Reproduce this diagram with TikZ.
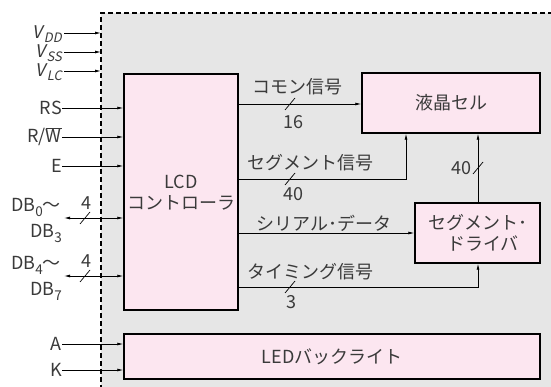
\documentclass[tikz,border=0pt]{standalone}
\usepackage{fontspec}
\setmainfont{Noto Sans CJK JP}
\newfontfamily\slfont[FakeSlant=0.2]{Noto Sans CJK JP}
\usetikzlibrary{arrows.meta}
\definecolor{bggray}{HTML}{E6E6E6}
\definecolor{boxpink}{HTML}{FCE6F0}
\definecolor{txt}{HTML}{3A3A3A}
\newcommand{\mysub}[1]{\raisebox{-0.3em}[0pt][0pt]{\fontsize{13.5}{13.5}\selectfont #1}}
\newcommand{\vsub}[1]{\kern1pt\raisebox{-0.25em}[0pt][0pt]{\fontsize{13}{13}\selectfont #1}}
\begin{document}
\begin{tikzpicture}[x=1pt,y=-1pt,
  every node/.style={text=txt,font=\fontsize{18}{21}\selectfont,inner sep=0pt},
  blk/.style={draw=black,line width=1.4pt,fill=boxpink},
  arr/.style={line width=0.8pt,-{Latex[length=6pt,width=3pt]}},
  darr/.style={line width=0.8pt,{Latex[length=6pt,width=3pt]}-{Latex[length=6pt,width=3pt]}},
  lab/.style={anchor=east},
  vlab/.style={anchor=east,font=\fontsize{17.5}{17.5}\selectfont\slfont},
  slash/.style={line width=0.7pt}]
\useasboundingbox (0,0) rectangle (551,387);
% chip region
\fill[bggray] (101,13) rectangle (551,387);
\draw[line width=1.2pt,dash pattern=on 5pt off 3pt] (101,390) -- (101,13) -- (555,13);
% blocks
\node[blk,minimum width=114pt,minimum height=236pt] (ctrl) at (181,192) {};
\node[align=center] (ctrltxt) at (181,193) {LCD\\コントローラ};
\node[blk,minimum width=178pt,minimum height=60pt] (cell) at (451,103) {液晶セル};
\node[blk,minimum width=125pt,minimum height=60pt,align=center] (drv) at (477.5,233) {セグメント･\\\hspace*{0.6em}ドライバ};
\node[blk,minimum width=416pt,minimum height=45pt] (led) at (332,356.5) {LEDバックライト};
% power inputs
\coordinate (border) at (101,0);
\node[vlab] (vdd) at (62,32) {V\vsub{DD}};
\node[vlab] (vss) at (62,51) {V\vsub{SS}};
\node[vlab] (vlc) at (62,70) {V\vsub{LC}};
\draw[arr] (64,33) coordinate (pvdd) -- (pvdd -| border);
\draw[arr] (64,52) coordinate (pvss) -- (pvss -| border);
\draw[arr] (64,71) coordinate (pvlc) -- (pvlc -| border);
% control inputs
\foreach \nm/\y/\t in {rs/108/RS,rw/137/{R/$\overline{\hbox{W}}$},en/166/E,a/344/A,k/370/K}{
  \node[lab] (\nm) at (62,\y) {\t};
}
\draw[arr] (rs.east) -- (rs.east -| ctrl.west);
\draw[arr] (rw.east) -- (rw.east -| ctrl.west);
\draw[arr] (en.east) -- (en.east -| ctrl.west);
\draw[arr] (a.east) -- (a.east -| led.west);
\draw[arr] (k.east) -- (k.east -| led.west);
% data bus
\node[anchor=east] (db0) at (61,205) {DB\mysub{0}～};
\node[anchor=east] (db3) at (62,231) {DB\mysub{3}};
\node[anchor=east] (db4) at (61,263) {DB\mysub{4}～};
\node[anchor=east] (db7) at (62,289) {DB\mysub{7}};
\coordinate (dbl) at (64,218);
\coordinate (dbh) at (64,276);
\draw[darr] (dbl) -- (dbl -| ctrl.west);
\draw[darr] (dbh) -- (dbh -| ctrl.west);
\draw[slash] (80,224) -- (90,212);
\draw[slash] (80,282) -- (90,270);
\node (n4a) at (86,203) {4};
\node (n4b) at (86,261) {4};
% common signal
\coordinate (com) at (238,104);
\draw[arr] (com) -- (com -| cell.west);
\node (comtxt) at (297,87) {コモン信号};
\draw[slash] (285,110) -- (295,98);
\node (n16) at (293,122) {16};
% segment signal
\coordinate (seg) at (238,179);
\coordinate (segc) at (406,179);
\draw[arr] (seg) -- (segc) -- (segc |- cell.south);
\node (segtxt) at (310,163) {セグメント信号};
\draw[slash] (285,185) -- (295,173);
\node (n40a) at (293,194) {40};
% driver to cell
\coordinate (dc) at (478,0);
\draw[arr] (dc |- drv.north) -- (dc |- cell.south);
\draw[slash] (473,174) -- (483,162);
\node (n40b) at (461,168) {40};
% serial data
\coordinate (ser) at (238,233);
\draw[arr] (ser) -- (ser -| drv.west);
\node (sertxt) at (324,223) {シリアル･データ};
% timing
\coordinate (tim) at (238,287);
\draw[arr] (tim) -- (tim -| dc) -- (dc |- drv.south);
\node (timtxt) at (310,272) {タイミング信号};
\draw[slash] (285,293) -- (295,281);
\node (n3) at (291,302) {3};
\end{tikzpicture}
\end{document}
